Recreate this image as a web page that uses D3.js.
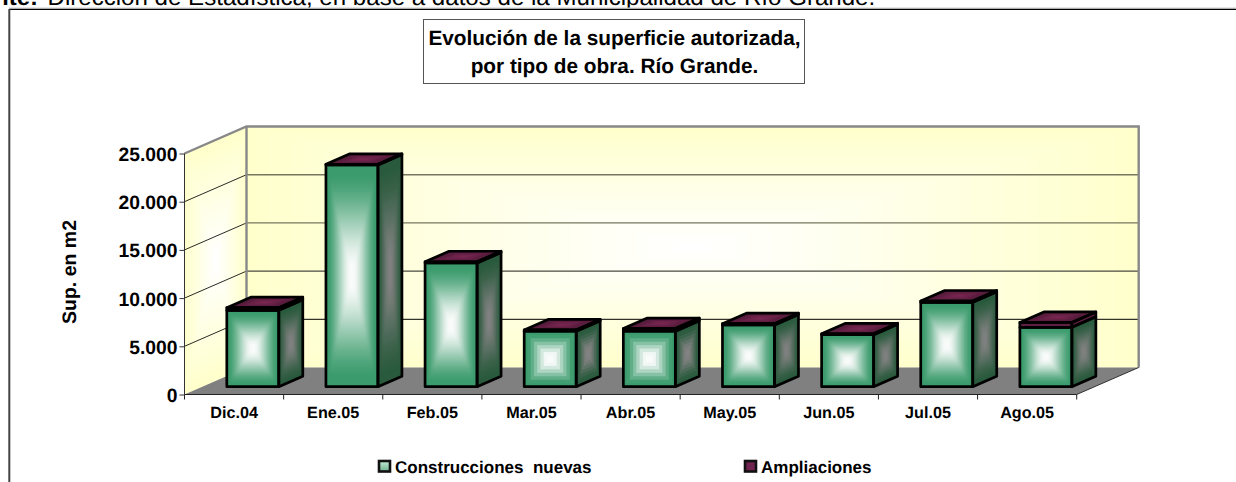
<!DOCTYPE html>
<html><head><meta charset="utf-8">
<script src="https://cdn.jsdelivr.net/npm/d3@7/dist/d3.min.js"></script>
<style>html,body{margin:0;padding:0;background:#fff;overflow:hidden}svg{display:block}text{font-family:"Liberation Sans",Arial,sans-serif;fill:#000;text-rendering:geometricPrecision}</style>
</head><body><svg id="c" width="1236" height="482"></svg>
<script>
const categories = ["Dic.04","Ene.05","Feb.05","Mar.05","Abr.05","May.05","Jun.05","Jul.05","Ago.05"];
const construccionesNuevas = [7925,23000,12830,5750,5750,6400,5390,8755,6160];
const ampliaciones = [270,70,130,135,280,140,100,135,510];
const yTicks = [0,5000,10000,15000,20000,25000];
const bandedCategories = ["Mar.05","Abr.05"];
const seriesNames = ["Construcciones  nuevas","Ampliaciones"];
const titleLines = ["Evolución de la superficie autorizada,","por tipo de obra. Río Grande."];

const svg = d3.select("#c");
const defs = svg.append("defs");
[["soft",1.6],["softer",0.5]].forEach(d=>{
  defs.append("filter").attr("id",d[0]).attr("x","-10%").attr("y","-10%").attr("width","120%").attr("height","120%")
    .append("feGaussianBlur").attr("stdDeviation",d[1]);
});
const x = d3.scaleBand().domain(categories).range([184.5,1076.7]);
const y = d3.scaleLinear().domain([0,25000]).range([394.5,153.5]);
const wallDx = 62, wallDy = 27;
const barW = 52, barDx = 24, barDy = 10.5, barInset = 42.3, baseUp = 7.8;
let clipId = 0;
const pstr = pts=>pts.map(p=>p.join(",")).join(" ");
const linearEase = s=>s;
const barEase = s=>{const u=Math.max(0,Math.min(1,(s-0.08)/0.84));return 0.5*u+0.5*u*u*(3-2*u);};

function rings(g, pts, edge, centre, n, ease, filter){
  const id = "cp"+(clipId++);
  defs.append("clipPath").attr("id",id).append("polygon").attr("points",pstr(pts));
  const outer = g.append("g").attr("clip-path",`url(#${id})`);
  const h = outer.append("g");
  if(filter) h.attr("filter",`url(#${filter})`);
  const cx = d3.mean(pts,p=>p[0]), cy = d3.mean(pts,p=>p[1]);
  const col = d3.interpolateRgb(edge,centre);
  h.append("polygon").attr("points",pstr(pts.map(p=>[cx+(p[0]-cx)*1.3,cy+(p[1]-cy)*1.3]))).attr("fill",edge);
  for(let k=0;k<n;k++){
    const t = 1-k/n;
    h.append("polygon")
     .attr("points",pstr(pts.map(p=>[cx+(p[0]-cx)*t,cy+(p[1]-cy)*t])))
     .attr("fill",col(ease(n>1?k/(n-1):0)));
  }
}
function outline(g, pts, w){
  g.append("polygon").attr("points",pstr(pts))
   .attr("fill","none").attr("stroke","#000").attr("stroke-width",w).attr("stroke-linejoin","round");
}

// page fragments behind the chart
const src = svg.append("g");
src.append("text").attr("x",38).attr("y",5).attr("text-anchor","end").attr("font-size",24).attr("font-weight","bold").text("Fuente:");
src.append("text").attr("x",47.5).attr("y",5).attr("font-size",24.1).text("Dirección de Estadística, en base a datos de la Municipalidad de Río Grande.");

// chart frame
svg.append("rect").attr("x",0).attr("y",8).attr("width",1236).attr("height",474).attr("fill","#fff");
svg.append("line").attr("x1",9).attr("x2",1236).attr("y1",8).attr("y2",8).attr("stroke","#ccc");
svg.append("line").attr("x1",9).attr("x2",1236).attr("y1",9.3).attr("y2",9.3).attr("stroke","#000").attr("stroke-width",1.3);
svg.append("line").attr("x1",9.3).attr("x2",9.3).attr("y1",9).attr("y2",482).attr("stroke","#444").attr("stroke-width",2);

// walls and floor
const x0 = x.range()[0], x1 = x.range()[1], y0 = y(0), yTop = y(25000);
const walls = svg.append("g");
const back = [[x0+wallDx,yTop-wallDy],[x1+wallDx,yTop-wallDy],[x1+wallDx,y0-wallDy],[x0+wallDx,y0-wallDy]];
rings(walls,back,"#ffffcc","#ffffff",40,linearEase,null);
const left = [[x0,yTop],[x0+wallDx,yTop-wallDy],[x0+wallDx,y0-wallDy],[x0,y0]];
rings(walls,left,"#ffffcc","#ffffff",24,linearEase,null);
walls.append("polygon").attr("points",pstr([[x0,y0],[x1,y0],[x1+wallDx,y0-wallDy],[x0+wallDx,y0-wallDy]])).attr("fill","#808080");

// grid
const grid = svg.append("g");
yTicks.filter(t=>t>0&&t<25000).forEach(t=>{
  const yy = y(t);
  grid.append("line").attr("x1",x0).attr("y1",yy).attr("x2",x0+wallDx).attr("y2",yy-wallDy).attr("stroke","#111").attr("stroke-width",0.9);
  const upper = t>5000;
  grid.append("line").attr("x1",x0+wallDx).attr("x2",x1+wallDx).attr("y1",yy-wallDy).attr("y2",yy-wallDy)
    .attr("stroke",t>=15000?"#77775f":(t===10000?"#4a4a40":"#000")).attr("stroke-width",upper?1.4:1);
});
// wall borders
const border = svg.append("g").attr("fill","none").attr("stroke","#888").attr("stroke-width",2.4);
border.append("polyline").attr("points",pstr([[x0,yTop],[x0+wallDx,yTop-wallDy],[x1+wallDx,yTop-wallDy],[x1+wallDx,y0-wallDy]]));
border.append("line").attr("x1",x0+wallDx).attr("x2",x0+wallDx).attr("y1",yTop-wallDy).attr("y2",y0-wallDy);
svg.append("line").attr("x1",x1).attr("y1",y0).attr("x2",x1+wallDx).attr("y2",y0-wallDy).attr("stroke","#222").attr("stroke-width",0.9);

// bars
const GREEN="#3a9b6c", WHITE="#f9fbfa", SIDE_E="#2a5a3d", SIDE_C="#828282", MAR_E="#4f1a37", MAR_C="#7a2852";
const bars = svg.append("g");
categories.forEach((c,i)=>{
  const g = bars.append("g");
  const L = x(c)+barInset, R = L+barW, B = y0-baseUp;
  const hv = v=>y0-y(v);
  const T1 = B-hv(construccionesNuevas[i]);
  const T2 = T1-hv(ampliaciones[i]);
  const banded = bandedCategories.includes(c);
  const n = banded?8:30;
  const f = banded?"softer":"soft";
  const front=[[L,T1],[R,T1],[R,B],[L,B]];
  const side=[[R,T1],[R+barDx,T1-barDy],[R+barDx,B-barDy],[R,B]];
  rings(g,front,GREEN,WHITE,n,barEase,f);
  rings(g,side,SIDE_E,SIDE_C,n,barEase,f);
  const capF=[[L,T2],[R,T2],[R,T1],[L,T1]];
  const capS=[[R,T2],[R+barDx,T2-barDy],[R+barDx,T1-barDy],[R,T1]];
  const top=[[L,T2],[L+barDx,T2-barDy],[R+barDx,T2-barDy],[R,T2]];
  g.selectAll(null).data([capF,capS]).enter().append("polygon")
    .attr("points",pstr).attr("fill","#5f1f42");
  rings(g,top,MAR_E,MAR_C,10,linearEase,"softer");
  [front,side,capF,capS,top].forEach(p=>outline(g,p,2.7));
});

// axes
const yAxis = svg.append("g").attr("transform",`translate(${x0},0)`)
  .call(d3.axisLeft(y).tickValues(yTicks).tickSize(5).tickPadding(2).tickFormat(d=>d3.format(",")(d).replace(",",".")));
yAxis.selectAll("path").attr("stroke","#333").attr("d",`M0,${yTop}V${y0}`);
yAxis.selectAll("line").attr("stroke","#333");
yAxis.selectAll("text").attr("font-size",19.3).attr("font-weight","bold").attr("font-family",'"Liberation Sans",Arial,sans-serif').attr("dy","0.36em");

const xAxis = svg.append("g").attr("transform",`translate(0,${y0})`)
  .call(d3.axisBottom(x).tickSize(0).tickPadding(11.5));
xAxis.select("path").attr("stroke","#222").attr("d",`M${x0},0H${x1}`);
xAxis.selectAll("text").attr("font-size",16.2).attr("font-weight","bold").attr("font-family",'"Liberation Sans",Arial,sans-serif').attr("dy","0.71em");
categories.concat(["end"]).forEach((c,i)=>{
  const px = x0+i*x.step();
  xAxis.append("line").attr("x1",px).attr("x2",px).attr("y1",0).attr("y2",5).attr("stroke","#222");
});

svg.append("text").attr("transform","translate(76,272) rotate(-90)").attr("text-anchor","middle")
  .attr("font-size",19.5).attr("font-weight","bold").text("Sup. en m2");

// title
svg.append("rect").attr("x",423.5).attr("y",19.5).attr("width",381).attr("height",64).attr("fill","#fff").attr("stroke","#555").attr("stroke-width",1);
titleLines.forEach((t,i)=>svg.append("text").attr("x",614.5).attr("y",45+i*28).attr("text-anchor","middle").attr("font-size",20.8).attr("font-weight","bold").text(t));

// legend
const lg = defs.append("linearGradient").attr("id","lg").attr("x1",0).attr("x2",0).attr("y1",0).attr("y2",1);
lg.append("stop").attr("offset",0).attr("stop-color","#c4ecd6");
lg.append("stop").attr("offset",1).attr("stop-color","#6fae8c");
[[379,"url(#lg)",395],[745,"#6f2450",761]].forEach((d,i)=>{
  svg.append("rect").attr("x",d[0]).attr("y",461).attr("width",11).attr("height",10.5).attr("fill",d[1]).attr("stroke","#111").attr("stroke-width",2.6);
  svg.append("text").attr("x",d[2]).attr("y",472.5).attr("font-size",17).attr("font-weight","bold").attr("xml:space","preserve").style("white-space","pre").text(seriesNames[i]);
});
</script></body></html>
